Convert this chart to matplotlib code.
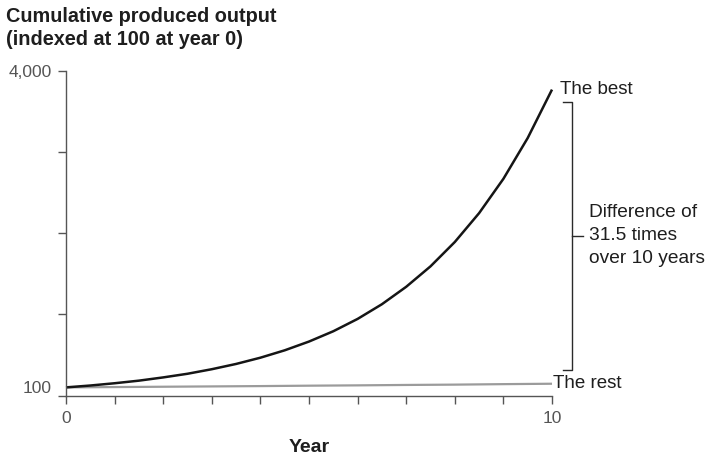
import matplotlib
matplotlib.use("Agg")
import matplotlib.pyplot as plt
from matplotlib.transforms import offset_copy

plt.rcParams['font.family'] = ['Liberation Sans', 'DejaVu Sans']

# ---- data ----
years_best = [0, 0.5, 1, 1.5, 2, 2.5, 3, 3.5, 4, 4.5, 5, 5.5, 6, 6.5, 7, 7.5, 8, 8.5, 9, 9.5, 10]
best = [100, 123, 151, 183, 223, 268, 324, 389, 466, 557, 665, 792, 944, 1125,
        1340, 1592, 1892, 2248, 2671, 3174, 3771]
years_rest = [0, 1, 2, 3, 4, 5, 6, 7, 8, 9, 10]
rest = [100, 104, 108, 112, 116, 121, 125, 130, 134, 140, 145]

x_ticks = [0, 1, 2, 3, 4, 5, 6, 7, 8, 9, 10]
x_ticklabels = ['0', '', '', '', '', '', '', '', '', '', '10']
y_ticks = [0, 1000, 2000, 3000, 4000]
y_ticklabels = ['', '', '', '', '4,000']
y_base = 100

title_lines = ["Cumulative produced output", "(indexed at 100 at year 0)"]
x_label = "Year"
label_best = "The best"
label_rest = "The rest"
bracket_text = "Difference of\n31.5 times\nover 10 years"

W, H = 712, 457
fig = plt.figure(figsize=(W / 100, H / 100), dpi=100)
ax = fig.add_axes([66 / W, 1 - 395.5 / H, (552 - 66) / W, (395.5 - 71) / H])

axis_col = '#555555'
tick_col = '#555555'
text_col = '#1e1e1e'

ax.plot(years_rest, rest, color='#9b9b9b', lw=1.6, solid_capstyle='butt', clip_on=False)
ax.plot(years_best, best, color='#151515', lw=1.8, solid_capstyle='butt',
        solid_joinstyle='round', clip_on=False)

ax.set_xlim(0, 10)
ax.set_ylim(0, 4000)
for s in ['top', 'right']:
    ax.spines[s].set_visible(False)
for s in ['left', 'bottom']:
    ax.spines[s].set_color(axis_col)
    ax.spines[s].set_linewidth(1.0)

ax.set_xticks(x_ticks)
ax.set_xticklabels(x_ticklabels)
ax.set_yticks(y_ticks)
ax.set_yticklabels(y_ticklabels)
ax.set_yticks([y_base], minor=True)
ax.set_yticklabels([str(y_base)], minor=True)
ax.tick_params(axis='both', which='major', direction='out', length=5.5, width=1.0,
               color=axis_col, labelcolor=tick_col, labelsize=12.5)
ax.tick_params(axis='x', which='major', pad=6)
ax.tick_params(axis='y', which='major', pad=5)
ax.tick_params(axis='y', which='minor', length=0, pad=10.5,
               labelcolor=tick_col, labelsize=12.5)

ax.set_xlabel(x_label, fontsize=14, fontweight='bold', color=text_col, labelpad=9)

# line end labels
tr_best = offset_copy(ax.transData, fig=fig, x=5.5, y=0, units='points')
ax.text(years_best[-1], best[-1], label_best, transform=tr_best, ha='left', va='center',
        fontsize=13.5, color=text_col, clip_on=False)
tr_rest = offset_copy(ax.transData, fig=fig, x=0.5, y=0, units='points')
ax.text(years_rest[-1], rest[-1], label_rest, transform=tr_rest, ha='left', va='center',
        fontsize=13.5, color=text_col, clip_on=False)

# bracket between the two end values
b_top = best[-1] - 150
b_bot = rest[-1] + 170
bx = 10.42
b_mid = (b_top + b_bot) / 2
bk = dict(color='#2a2a2a', lw=1.0, clip_on=False, solid_joinstyle='round')
ax.plot([bx - 0.2, bx, bx, bx - 0.2], [b_top, b_top, b_bot, b_bot], **bk)
ax.plot([bx, bx + 0.22], [b_mid, b_mid], **bk)
ax.text(bx + 0.35, b_mid, bracket_text, ha='left', va='center', fontsize=13.8,
        color=text_col, linespacing=1.45, clip_on=False)

# title
fig.text(6 / W, 1 - 22 / H, title_lines[0], fontsize=14.3, fontweight='bold',
         color=text_col, ha='left', va='baseline')
fig.text(6 / W, 1 - 45 / H, title_lines[1], fontsize=14.3, fontweight='bold',
         color=text_col, ha='left', va='baseline')

fig.savefig('out.png', dpi=100)
